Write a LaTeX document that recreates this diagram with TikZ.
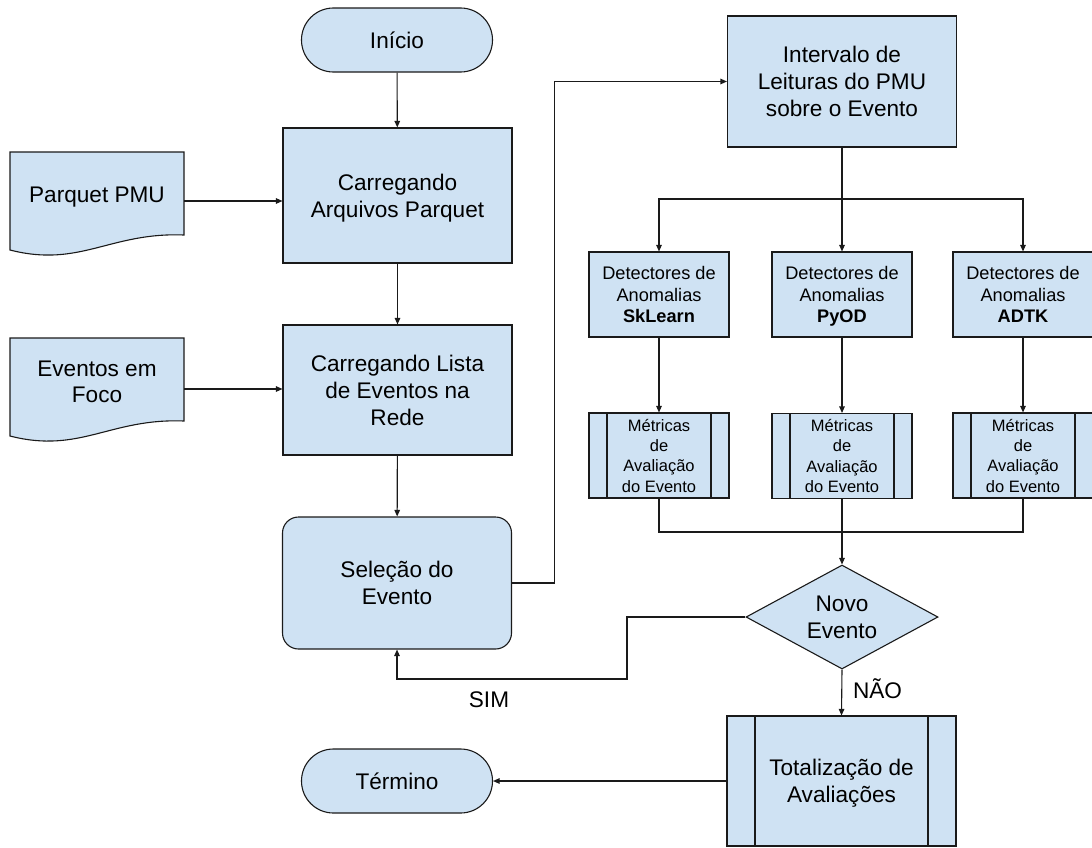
\documentclass[tikz,border=0pt]{standalone}
\usepackage{fontspec}
\setmainfont{Liberation Sans}
\usetikzlibrary{arrows.meta,shapes.geometric,backgrounds,calc}
\definecolor{boxblue}{HTML}{CFE2F3}
\definecolor{edge}{HTML}{1A1A1A}
\newlength{\insetlen}
\newcommand{\fs}{\rule[-0.2\baselineskip]{0pt}{\baselineskip}}
\begin{document}
\begin{tikzpicture}[x=1pt,y=-1pt,
  every node/.style={align=center,inner sep=0pt},
  bigtxt/.style={font=\fontsize{22.6}{27}\selectfont},
  midtxt/.style={font=\fontsize{18.2}{21.7}\selectfont},
  smalltxt/.style={font=\fontsize{16.5}{20.3}\selectfont},
  shp/.style={fill=boxblue,draw=edge,line width=1.1pt},
  terminal/.style={shp,bigtxt,rectangle,rounded corners=31.9pt,minimum width=191pt,minimum height=64pt},
  procbox/.style={shp,bigtxt,rectangle,minimum width=229pt,minimum height=#1},
  detbox/.style={shp,midtxt,rectangle,minimum width=140pt,minimum height=85pt},
  subproc/.style 2 args={shp,rectangle,minimum width=#1,minimum height=#2,
    path picture={
      \draw[edge,line width=1.1pt] ([xshift=\insetlen]path picture bounding box.north west) -- ([xshift=\insetlen]path picture bounding box.south west);
      \draw[edge,line width=1.1pt] ([xshift=-\insetlen]path picture bounding box.north east) -- ([xshift=-\insetlen]path picture bounding box.south east);}},
  decision/.style={shp,bigtxt,diamond,minimum width=192pt,minimum height=104pt,shape aspect=1.85},
  conn/.style={draw=edge,line width=1.1pt},
  arr/.style={conn,-{Triangle[length=6.5pt,width=5.5pt]}},
  lbl/.style={bigtxt}
]
\useasboundingbox (0,0) rectangle (1092,847);
% terminals
\node[terminal] (start) at (397,40) {\fs Início\fs};
\node[terminal] (term) at (397,781) {\fs Término\fs};
% main column
\node[procbox=135pt] (carq) at (397.5,195.5) {\fs Carregando\\Arquivos Parquet\fs};
\node[procbox=130pt] (carl) at (397.5,390) {\fs Carregando Lista\\de Eventos na\\Rede\fs};
\node[procbox=132pt,rounded corners=16pt] (sel) at (397,583) {\fs Seleção do\\Evento\fs};
% documents
\node[minimum width=174pt,minimum height=98pt] (pmu) at (97,201) {};
\node[bigtxt] (pmut) at (97,194) {\fs Parquet PMU\fs};
\node[minimum width=174pt,minimum height=100pt] (ev) at (97,389) {};
\node[bigtxt,font=\fontsize{22.6}{26}\selectfont] (evt) at (97,382) {\fs Eventos em\\Foco\fs};
\begin{scope}[on background layer]
  \filldraw[shp] (10,152) -- (184,152) -- (184,235) .. controls (110,232) and (80,268) .. (10,250) -- cycle;
  \filldraw[shp] (10,338) -- (184,338) -- (184,421) .. controls (110,418) and (80,454) .. (10,436) -- cycle;
\end{scope}
% right side
\node[procbox=131pt] (int) at (842,81.5) {\fs Intervalo de\\Leituras do PMU\\sobre o Evento\fs};
\node[detbox] (d1) at (659,294.5) {\fs Detectores de\\Anomalias\\\textbf{SkLearn}\fs};
\node[detbox] (d2) at (842,294.5) {\fs Detectores de\\Anomalias\\\textbf{PyOD}\fs};
\node[detbox] (d3) at (1023,294.5) {\fs Detectores de\\Anomalias\\\textbf{ADTK}\fs};
\setlength{\insetlen}{18pt}
\node[subproc={140pt}{85pt},smalltxt] (m1) at (659,455.5) {\fs Métricas\\de\\Avaliação\\do Evento\fs};
\node[subproc={140pt}{85pt},smalltxt] (m2) at (842,456) {\fs Métricas\\de\\Avaliação\\do Evento\fs};
\node[subproc={140pt}{85pt},smalltxt] (m3) at (1023,455.5) {\fs Métricas\\de\\Avaliação\\do Evento\fs};
\node[decision] (dec) at (842,617) {\fs Novo\\Evento\fs};
\setlength{\insetlen}{28pt}
\node[subproc={229pt}{130pt},bigtxt] (tot) at (841.5,781) {\fs Totalização de\\Avaliações\fs};
% labels
\node[lbl] (sim) at (489,699) {\fs SIM\fs};
\node[lbl] (nao) at (877.5,690) {\fs NÃO\fs};
% coordinates
\coordinate (br) at (842,199);
\coordinate (mg) at (842,532);
\coordinate (lp) at (627,679);
% connectors
\draw[arr] (start) -- (carq);
\draw[arr] (carq) -- (carl);
\draw[arr] (carl) -- (sel);
\draw[arr] (pmu.east) -- (pmu.east -| carq.west);
\draw[arr] (ev.east) -- (ev.east -| carl.west);
\draw[arr] (sel.east) -- ++(42,0) |- (int.west);
\draw[conn] (int.south) -- (br);
\draw[arr] (br) -| (d1.north);
\draw[arr] (br) -- (d2.north);
\draw[arr] (br) -| (d3.north);
\draw[arr] (d1) -- (m1);
\draw[arr] (d2) -- (m2);
\draw[arr] (d3) -- (m3);
\draw[conn] (m1.south) |- (mg);
\draw[conn] (m3.south) |- (mg);
\draw[arr] (m2.south) -- (dec.north);
\draw[arr] (dec.west) -| (lp) -| (sel.south);
\draw[arr] (dec.south) -- (tot.north);
\draw[arr] (tot.west) -- (term.east);
\end{tikzpicture}%
\end{document}
